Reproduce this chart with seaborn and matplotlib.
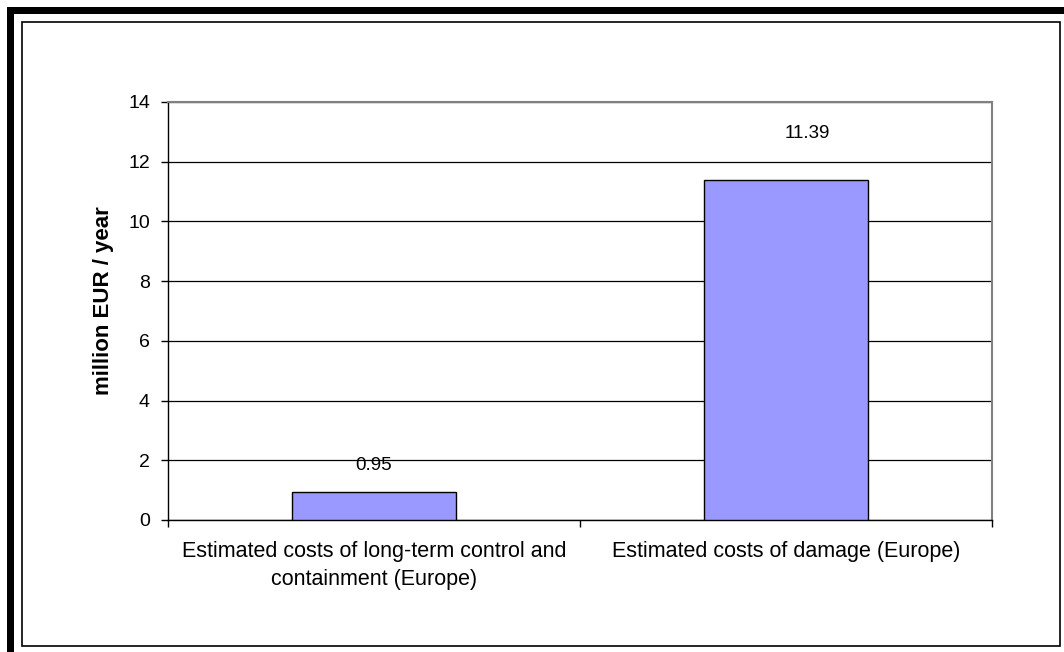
import matplotlib
matplotlib.use("Agg")
import matplotlib.pyplot as plt
import seaborn as sns
import pandas as pd
from matplotlib.patches import Rectangle

categories = [
    "Estimated costs of long-term control and\ncontainment (Europe)",
    "Estimated costs of damage (Europe)",
]
values = [0.95, 11.39]
value_labels = ["0.95", "11.39"]
yticks = [0, 2, 4, 6, 8, 10, 12, 14]
ylabel = "million EUR / year"

sns.set_theme(style="white")
plt.rcParams["font.family"] = ["Liberation Sans", "DejaVu Sans"]
plt.rcParams["text.color"] = "black"
plt.rcParams["xtick.color"] = "black"
plt.rcParams["ytick.color"] = "black"
plt.rcParams["axes.labelcolor"] = "black"

df = pd.DataFrame({"category": categories, "value": values})

fig = plt.figure(figsize=(10.64, 6.52), dpi=100)
ax = fig.add_axes([168 / 1064, 1 - 520 / 652, (992 - 168) / 1064, (520 - 102) / 652])

sns.barplot(data=df, x="category", y="value", ax=ax, color="#9999FF",
            saturation=1, width=0.4, edgecolor="black", linewidth=1.0, zorder=3)

ax.set_ylim(0, 14)
ax.set_xlim(-0.5, 1.5)
ax.set_yticks(yticks)
ax.set_yticklabels([str(t) for t in yticks], fontsize=14)
ax.yaxis.grid(True, color="black", linewidth=0.9)
ax.set_axisbelow(True)

# category boundary ticks as majors, category names as minor labels
ax.set_xticks([-0.5, 0.5, 1.5])
ax.set_xticklabels(["", "", ""])
ax.set_xticks([0, 1], minor=True)
ax.set_xticklabels(categories, minor=True, fontsize=15.5, linespacing=1.45)
ax.tick_params(axis="x", which="minor", length=0, pad=15)
ax.tick_params(axis="x", which="major", length=5, width=1, direction="out", bottom=True)
ax.tick_params(axis="y", length=5, width=1, direction="out", left=True, pad=8)

ax.set_xlabel("")
ax.set_ylabel(ylabel, fontsize=16, fontweight="bold")
ax.yaxis.set_label_coords(-0.0655, 0.524)

for side in ["left", "bottom"]:
    ax.spines[side].set_color("black")
    ax.spines[side].set_linewidth(1.0)
for side in ["top", "right"]:
    ax.spines[side].set_visible(True)
    ax.spines[side].set_color("#808080")
    ax.spines[side].set_linewidth(1.5)

label_offsets = [(0, 18), (21, 38)]
for i, (v, lab) in enumerate(zip(values, value_labels)):
    ax.annotate(lab, xy=(i, v), xytext=label_offsets[i], textcoords="offset pixels",
                ha="center", va="bottom", fontsize=13.5, color="black")

# chart frame: thick outer edge on left/top, thin inner border
fig.patches.append(Rectangle((21.5 / 1064, 1 - 646 / 652), (1060 - 21.5) / 1064, (646 - 22) / 652,
                             transform=fig.transFigure, fill=False, edgecolor="black", linewidth=1.2))
fig.patches.append(Rectangle((7 / 1064, 0), 6.5 / 1064, 1 - 7 / 652,
                             transform=fig.transFigure, facecolor="black", edgecolor="none"))
fig.patches.append(Rectangle((7 / 1064, 1 - 13.5 / 652), 1 - 7 / 1064, 6.5 / 652,
                             transform=fig.transFigure, facecolor="black", edgecolor="none"))

fig.savefig("out.png", dpi=100)
